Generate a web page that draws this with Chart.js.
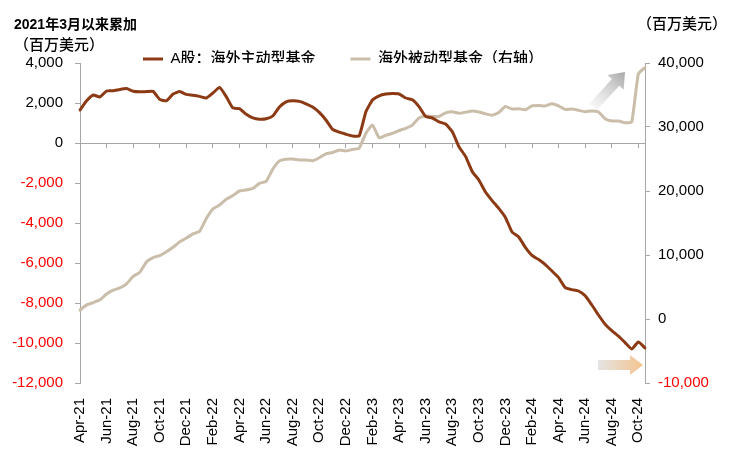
<!DOCTYPE html>
<html>
<head>
<meta charset="utf-8">
<script src="https://cdn.jsdelivr.net/npm/chart.js@4.4.1/dist/chart.umd.min.js"></script>
<style>
html,body{margin:0;padding:0;background:#ffffff;}
#wrap{width:739px;height:464px;position:relative;}
</style>
</head>
<body>
<div id="wrap"><canvas id="c" width="739" height="464"></canvas></div>
<script>
// Semi-monthly observation dates (categories)
const periods = [
  '2021-04-01','2021-04-16','2021-05-01','2021-05-16','2021-06-01','2021-06-16','2021-07-01','2021-07-16','2021-08-01','2021-08-16','2021-09-01','2021-09-16','2021-10-01','2021-10-16','2021-11-01','2021-11-16','2021-12-01','2021-12-16',
  '2022-01-01','2022-01-16','2022-02-01','2022-02-16','2022-03-01','2022-03-16','2022-04-01','2022-04-16','2022-05-01','2022-05-16','2022-06-01','2022-06-16','2022-07-01','2022-07-16','2022-08-01','2022-08-16','2022-09-01','2022-09-16','2022-10-01','2022-10-16','2022-11-01','2022-11-16','2022-12-01','2022-12-16',
  '2023-01-01','2023-01-16','2023-02-01','2023-02-16','2023-03-01','2023-03-16','2023-04-01','2023-04-16','2023-05-01','2023-05-16','2023-06-01','2023-06-16','2023-07-01','2023-07-16','2023-08-01','2023-08-16','2023-09-01','2023-09-16','2023-10-01','2023-10-16','2023-11-01','2023-11-16','2023-12-01','2023-12-16',
  '2024-01-01','2024-01-16','2024-02-01','2024-02-16','2024-03-01','2024-03-16','2024-04-01','2024-04-16','2024-05-01','2024-05-16','2024-06-01','2024-06-16','2024-07-01','2024-07-16','2024-08-01','2024-08-16','2024-09-01','2024-09-16','2024-10-01','2024-10-16'
];

// Axis tick labels (every 2 months)
const tickLabels = ['Apr-21','Jun-21','Aug-21','Oct-21','Dec-21','Feb-22','Apr-22','Jun-22','Aug-22','Oct-22','Dec-22','Feb-23','Apr-23','Jun-23','Aug-23','Oct-23','Dec-23','Feb-24','Apr-24','Jun-24','Aug-24','Oct-24'];

// A股：海外主动型基金 (left axis, US$ mn, cumulative since Mar 2021)
const activeFunds = [
  1650,2110,2400,2300,2600,2610,2680,2720,2590,2560,2570,2580,2180,2110,2450,2570,2430,2390,
  2330,2250,2500,2780,2320,1750,1720,1440,1260,1190,1210,1350,1800,2060,2110,2080,1960,1800,1530,1150,680,540,440,350,
  350,1550,2150,2360,2450,2470,2450,2250,2160,1820,1330,1250,1060,950,570,-180,-670,-1420,-1850,-2450,-2880,-3270,-3720,-4450,
  -4700,-5220,-5620,-5830,-6080,-6400,-6730,-7230,-7330,-7400,-7640,-8100,-8600,-9060,-9380,-9660,-9980,-10300,-9950,-10250
];

// 海外被动型基金 (right axis, US$ mn)
const passiveFunds = [
  1400,2200,2570,3000,3900,4500,4850,5500,6650,7300,8900,9600,9900,10500,11200,12050,12650,13300,
  13700,15700,17190,17800,18700,19300,20000,20150,20400,21200,21500,23400,24700,24970,25000,24850,24840,24740,25200,25800,26020,26400,26250,26500,
  26700,29000,30300,28300,28700,29000,29450,29800,30300,31400,31700,31650,31650,32200,32390,32150,32300,32500,32350,32050,31850,32250,33200,32800,
  32850,32700,33300,33350,33300,33650,33300,32750,32800,32600,32400,32500,32350,31300,30950,30950,30650,30800,38300,39300
];

const seriesNames = ['A股：海外主动型基金', '海外被动型基金（右轴）'];
const seriesColors = ['#8B3A14', '#CABDA9'];

const FONT = "'Liberation Sans', Arial, 'Noto Sans CJK SC', sans-serif";
const AXIS_GREY = '#A6A6A6';
const fmt = v => Number(v).toLocaleString('en-US');

const legendSpot = {
  id: 'legendSpot',
  beforeInit(chart) {
    const lg = chart.legend;
    if (!lg) return;
    const fit = lg.fit;
    lg.fit = function () { fit.call(this); this.height = 0; };
  },
  afterLayout(chart) {
    const lg = chart.legend;
    if (!lg) return;
    const p = lg.options.labels.padding;
    const fs = lg.options.labels.font.size;
    lg.left = 143 - p;
    lg.top = 59 - fs / 2 - p;
  }
};

function drawArrow(ctx, x0, y0, x1, y1, shaftW, headW, headL, c0, c1) {
  const dx = x1 - x0, dy = y1 - y0;
  const len = Math.hypot(dx, dy);
  const ux = dx / len, uy = dy / len, nx = -uy, ny = ux;
  const bx = x1 - ux * headL, by = y1 - uy * headL;
  const g = ctx.createLinearGradient(x0, y0, x1, y1);
  g.addColorStop(0, c0);
  g.addColorStop(1, c1);
  ctx.fillStyle = g;
  ctx.beginPath();
  ctx.moveTo(x0 + nx * shaftW / 2, y0 + ny * shaftW / 2);
  ctx.lineTo(bx + nx * shaftW / 2, by + ny * shaftW / 2);
  ctx.lineTo(bx + nx * headW / 2, by + ny * headW / 2);
  ctx.lineTo(x1, y1);
  ctx.lineTo(bx - nx * headW / 2, by - ny * headW / 2);
  ctx.lineTo(bx - nx * shaftW / 2, by - ny * shaftW / 2);
  ctx.lineTo(x0 - nx * shaftW / 2, y0 - ny * shaftW / 2);
  ctx.closePath();
  ctx.fill();
}

const decorations = {
  id: 'decorations',
  afterDraw(chart) {
    const {ctx, chartArea: a} = chart;
    ctx.save();
    ctx.fillStyle = '#000000';
    ctx.textBaseline = 'middle';
    ctx.textAlign = 'left';
    ctx.font = "bold 14px " + FONT;
    ctx.fillText('2021年3月以来累加', 14, 25);
    ctx.font = "500 15px " + FONT;
    ctx.fillText('（百万美元）', 14, 46);
    ctx.fillText('（百万美元）', a.right - 8, 25);
    // trend arrows
    drawArrow(ctx, a.right - 52, a.top + 44, a.right - 20, a.top + 9, 10, 22, 14, 'rgba(240,240,240,0.6)', '#A8A8A8');
    drawArrow(ctx, a.right - 47, a.bottom - 18, a.right - 2, a.bottom - 18, 10, 20, 13, '#E4E4E4', '#F4C48F');
    ctx.restore();
  }
};

new Chart(document.getElementById('c'), {
  type: 'line',
  data: {
    labels: periods,
    datasets: [
      {
        label: seriesNames[0], data: activeFunds, yAxisID: 'y', xAxisID: 'x',
        borderColor: seriesColors[0], backgroundColor: seriesColors[0], borderWidth: 3,
        pointRadius: 0, tension: 0.15, borderJoinStyle: 'round', borderCapStyle: 'round', fill: false
      },
      {
        label: seriesNames[1], data: passiveFunds, yAxisID: 'y2', xAxisID: 'x',
        borderColor: seriesColors[1], backgroundColor: seriesColors[1], borderWidth: 3,
        pointRadius: 0, tension: 0.15, borderJoinStyle: 'round', borderCapStyle: 'round', fill: false
      }
    ]
  },
  options: {
    responsive: false,
    animation: false,
    events: [],
    layout: { padding: { top: 63, left: 0, right: 0, bottom: 0 } },
    plugins: {
      legend: {
        display: true,
        position: 'top',
        align: 'start',
        labels: {
          usePointStyle: true, pointStyle: 'line', pointStyleWidth: 20,
          padding: 35, color: '#000000', font: { family: FONT, size: 15, weight: '500' }
        }
      },
      title: { display: false },
      tooltip: { enabled: false }
    },
    scales: {
      x: {
        type: 'category', position: 'bottom', offset: false,
        afterBuildTicks: s => { s.ticks = s.ticks.filter(t => t.value % 4 === 0); },
        afterFit: s => { s.height = 81; s.paddingLeft = 0; s.paddingRight = 0; },
        ticks: {
          autoSkip: false, minRotation: 90, maxRotation: 90, padding: 15,
          color: '#000000', font: { family: FONT, size: 15 },
          callback: (v, i) => tickLabels[i]
        },
        grid: { display: false, drawTicks: false, offset: false },
        border: { display: false }
      },
      x0: {
        type: 'category', axis: 'x', position: { y: 0 }, offset: false,
        afterBuildTicks: s => { s.ticks = s.ticks.filter(t => t.value % 4 === 0); },
        afterFit: s => { s.height = 0; s.paddingLeft = 0; s.paddingRight = 0; },
        ticks: { display: false, autoSkip: false },
        grid: { display: true, drawOnChartArea: false, drawTicks: true, tickLength: 4, color: AXIS_GREY, offset: false },
        border: { display: true, color: AXIS_GREY, width: 1 }
      },
      y: {
        type: 'linear', position: 'left', min: -12000, max: 4000,
        afterFit: s => { s.width = 80; s.paddingTop = 0; s.paddingBottom = 0; },
        ticks: {
          stepSize: 2000, padding: 12, font: { family: FONT, size: 15 },
          color: c => (c.tick && c.tick.value < 0 ? '#FF0000' : '#000000'),
          callback: v => fmt(v)
        },
        grid: { display: true, drawOnChartArea: false, drawTicks: true, tickLength: 5, color: AXIS_GREY },
        border: { display: true, color: AXIS_GREY, width: 1 }
      },
      y2: {
        type: 'linear', position: 'right', min: -10000, max: 40000,
        afterFit: s => { s.width = 94; s.paddingTop = 0; s.paddingBottom = 0; },
        ticks: {
          stepSize: 10000, padding: 8, font: { family: FONT, size: 15 },
          color: c => (c.tick && c.tick.value < 0 ? '#FF0000' : '#000000'),
          callback: v => fmt(v)
        },
        grid: { display: true, drawOnChartArea: false, drawTicks: true, tickLength: 5, color: AXIS_GREY },
        border: { display: true, color: AXIS_GREY, width: 1 }
      }
    }
  },
  plugins: [legendSpot, decorations]
});
</script>
</body>
</html>
